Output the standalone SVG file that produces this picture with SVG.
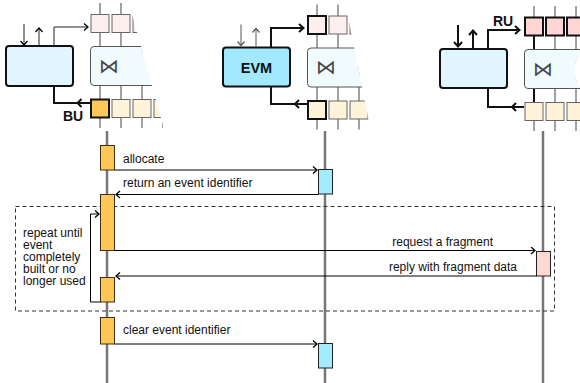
<svg xmlns="http://www.w3.org/2000/svg" width="580" height="383" viewBox="0 0 580 383">
<style>
text{font-family:"Liberation Sans",Arial,sans-serif;fill:#111}
.lbl{font-size:12px}
.bold{font-weight:bold}
.unit{fill:#e0f5fd;stroke:#111;stroke-width:2}
.sw{fill:#f0fbfe;stroke:#555;stroke-width:1}
.pk{fill:#fcefee;stroke:#666;stroke-width:1}
.pkH{fill:#ffd5d3;stroke:#111;stroke-width:2}
.cr{fill:#fff4d9;stroke:#666;stroke-width:1}
.crH{fill:#fff4d9;stroke:#111;stroke-width:2}
.orH{fill:#ffc658;stroke:#111;stroke-width:2}
.vl{stroke:#444;stroke-width:1}
.thin{fill:none;stroke:#222;stroke-width:1}
.thinG{fill:none;stroke:#555;stroke-width:1}
.thick{fill:none;stroke:#111;stroke-width:2}
.life{stroke:#777;stroke-width:2.5}
.msg{fill:none;stroke:#000;stroke-width:1}
.actO{fill:#ffc658;stroke:#3e3010;stroke-width:1}
.actB{fill:#a3ecff;stroke:#222;stroke-width:1}
.actP{fill:#ffd8d5;stroke:#222;stroke-width:1}
.sym{font-family:"DejaVu Sans",sans-serif;font-size:20px;fill:#444}
</style>
<defs>
<marker id="a" markerUnits="userSpaceOnUse" markerWidth="8" markerHeight="10" refX="5" refY="4" orient="auto"><path d="M1,0.5 L5,4 L1,7.5" fill="none" stroke="#000" stroke-width="1.3"/></marker>
<marker id="aT" markerUnits="userSpaceOnUse" markerWidth="10" markerHeight="12" refX="6" refY="5" orient="auto"><path d="M1,1 L5.5,5 L1,9" fill="none" stroke="#111" stroke-width="2"/></marker>
<marker id="aG" markerUnits="userSpaceOnUse" markerWidth="8" markerHeight="10" refX="5" refY="4" orient="auto"><path d="M1,0.5 L5,4 L1,7.5" fill="none" stroke="#555" stroke-width="1.2"/></marker>
<clipPath id="cBU" clipPathUnits="userSpaceOnUse"><polygon points="85,0 128,0 163,125 163,135 85,135"/></clipPath>
<clipPath id="cEVM" clipPathUnits="userSpaceOnUse"><polygon points="85,0 128,0 154,130 85,130"/></clipPath>
<clipPath id="cRU" clipPathUnits="userSpaceOnUse"><path d="M85,0 H150 V48 Q130,67 150,88 V135 H85 Z"/></clipPath>
</defs>
<rect width="580" height="383" fill="#fff"/>

<!-- BU column -->
<g id="BU">
  <g clip-path="url(#cBU)">
    <line class="vl" x1="100" y1="3" x2="100" y2="128"/>
    <line class="vl" x1="121" y1="3" x2="121" y2="128"/>
    <line class="vl" x1="142" y1="3" x2="142" y2="128"/>
    <line class="vl" x1="163" y1="3" x2="163" y2="128"/>
    <rect class="sw" x="90.5" y="46.5" width="100" height="39" rx="3.5"/>
    <text class="sym" x="99" y="72.5">⋈</text>
    <rect class="pk" x="91" y="14.5" width="18" height="18"/>
    <rect class="pk" x="112" y="14.5" width="18" height="18"/>
    <rect class="pk" x="133" y="14.5" width="18" height="18"/>
    <rect class="orH" x="91" y="99.5" width="18" height="18"/>
    <rect class="cr" x="112" y="99.5" width="18" height="18"/>
    <rect class="cr" x="133" y="99.5" width="18" height="18"/>
    <rect class="cr" x="154" y="99.5" width="18" height="18"/>
  </g>
  <rect class="unit" x="6" y="46" width="67" height="40" rx="3"/>
  <line class="thin" x1="24" y1="24" x2="24" y2="45" marker-end="url(#a)"/>
  <line class="thin" x1="39" y1="46" x2="39" y2="28" marker-end="url(#a)"/>
  <path class="thin" d="M54,46 V27 H88" marker-end="url(#a)"/>
  <path class="thick" d="M54,86 V103 H90"/>
  <path class="thick" d="M81.5,99 L77.5,103 L81.5,107"/>
  <text class="bold" x="63" y="121" font-size="14">BU</text>
</g>

<!-- EVM column -->
<g id="EVM" transform="translate(217,1.5)">
  <g clip-path="url(#cEVM)">
    <line class="vl" x1="100" y1="3" x2="100" y2="128"/>
    <line class="vl" x1="121" y1="3" x2="121" y2="128"/>
    <line class="vl" x1="142" y1="3" x2="142" y2="128"/>
    <rect class="sw" x="90.5" y="46.5" width="100" height="39" rx="3.5"/>
    <text class="sym" x="99" y="72.5">⋈</text>
    <rect class="pkH" x="91" y="14.5" width="18" height="18" style="fill:#fcefee"/>
    <rect class="pk" x="112" y="14.5" width="18" height="18"/>
    <rect class="pk" x="133" y="14.5" width="18" height="18"/>
    <rect class="crH" x="91" y="99.5" width="18" height="18"/>
    <rect class="cr" x="112" y="99.5" width="18" height="18"/>
    <rect class="cr" x="133" y="99.5" width="18" height="18"/>
  </g>
  <rect class="unit" x="6" y="46" width="67" height="39" rx="3" style="fill:#a3e9fd"/>
  <text class="bold" x="39.5" y="71.5" font-size="14.5" text-anchor="middle">EVM</text>
  <line class="thinG" x1="24" y1="23" x2="24" y2="44" marker-end="url(#aG)"/>
  <line class="thinG" x1="39" y1="45" x2="39" y2="27" marker-end="url(#aG)"/>
  <path class="thick" d="M54,46 V26.5 H87" marker-end="url(#aT)"/>
  <path class="thick" d="M54,85 V102.5 H90"/>
  <path class="thick" d="M82,98.5 L78,102.5 L82,106.5"/>
</g>

<!-- RU column -->
<g id="RU" transform="translate(434,3)">
  <g clip-path="url(#cRU)">
    <line class="vl" x1="100" y1="3" x2="100" y2="128"/>
    <line class="vl" x1="121" y1="3" x2="121" y2="128"/>
    <line class="vl" x1="142" y1="3" x2="142" y2="128"/>
    <line class="thick" x1="100" y1="32" x2="100" y2="100"/>
    <rect class="sw" x="90.5" y="46.5" width="100" height="39" rx="3.5"/>
    <text class="sym" x="99" y="72.5">⋈</text>
    <rect class="pkH" x="91" y="14.5" width="18" height="18"/>
    <rect class="pkH" x="112" y="14.5" width="18" height="18"/>
    <rect class="pkH" x="133" y="14.5" width="18" height="18"/>
    <rect class="cr" x="91" y="99.5" width="18" height="18"/>
    <rect class="cr" x="112" y="99.5" width="18" height="18"/>
    <rect class="cr" x="133" y="99.5" width="18" height="18"/>
  </g>
  <rect class="unit" x="6" y="46" width="67" height="39" rx="3"/>
  <line class="thick" x1="24" y1="22" x2="24" y2="44" marker-end="url(#aT)"/>
  <line class="thick" x1="39" y1="46" x2="39" y2="27" marker-end="url(#aT)"/>
  <path class="thick" d="M54,46 V27 H86" marker-end="url(#aT)"/>
  <path class="thick" d="M54,85 V104 H90"/>
  <path class="thick" d="M82,100 L78,104 L82,108"/>
  <text class="bold" x="59" y="23" font-size="14">RU</text>
</g>

<!-- lifelines -->
<g id="lifelines">
  <line class="life" x1="107" y1="131" x2="107" y2="383"/>
  <line class="life" x1="325" y1="131" x2="325" y2="383"/>
  <line class="life" x1="543" y1="131" x2="543" y2="383"/>
</g>

<!-- loop frame -->
<g id="loop">
  <rect x="15.5" y="206.5" width="539" height="104.5" fill="none" stroke="#333" stroke-width="1" stroke-dasharray="4 3"/>
  <text class="lbl" x="23" y="237">repeat until<tspan x="23" dy="12">event</tspan><tspan x="23" dy="12">completely</tspan><tspan x="23" dy="12">built or no</tspan><tspan x="23" dy="12">longer used</tspan></text>
</g>

<!-- activations -->
<g id="activations">
  <rect class="actO" x="100.5" y="145.5" width="14" height="24.5"/>
  <rect class="actO" x="100.5" y="194.5" width="14" height="56"/>
  <rect class="actO" x="100.5" y="277.5" width="14" height="24.5"/>
  <rect class="actO" x="100.5" y="317.5" width="14" height="26.5"/>
  <rect class="actB" x="318.5" y="169.5" width="14" height="24.5"/>
  <rect class="actB" x="318.5" y="343.5" width="14" height="24.5"/>
  <rect class="actP" x="536.5" y="251.5" width="14" height="24.5"/>
</g>

<!-- messages -->
<g id="connectors">
  <path class="msg" d="M114.5,170 H317" marker-end="url(#a)"/>
  <path class="msg" d="M318.5,194.5 H116" marker-end="url(#a)"/>
  <path class="msg" d="M114.5,250.5 H535" marker-end="url(#a)"/>
  <path class="msg" d="M536.5,276 H116" marker-end="url(#a)"/>
  <path class="msg" d="M114.5,344 H317" marker-end="url(#a)"/>
  <path class="msg" d="M100.5,302 H90.5 V214 H99" marker-end="url(#a)"/>
  <text class="lbl" x="123" y="163">allocate</text>
  <text class="lbl" x="123" y="187">return an event identifier</text>
  <text class="lbl" x="493" y="246" text-anchor="end">request a fragment</text>
  <text class="lbl" x="517" y="271" text-anchor="end">reply with fragment data</text>
  <text class="lbl" x="123" y="334">clear event identifier</text>
</g>
</svg>
